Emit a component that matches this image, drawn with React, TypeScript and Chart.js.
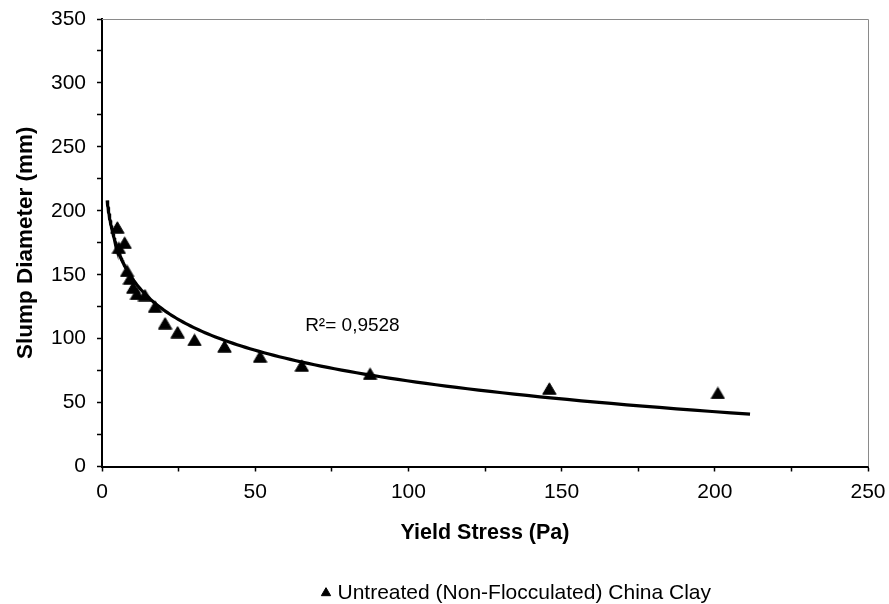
import React, { useEffect, useRef } from 'react';
import { Chart, registerables } from 'chart.js';

Chart.register(...registerables);

// Measured yield stress (Pa) against slump diameter (mm), untreated china clay
const YIELD_STRESS = [5.0, 5.5, 7.4, 8.2, 9.1, 10.2, 11.4, 14.0, 17.3, 20.6, 24.7, 30.2, 40.0, 51.6, 65.2, 87.5, 146.0, 201.0];
const SLUMP_DIAMETER = [187, 171, 175, 153, 147, 140, 135, 134, 125, 112, 105, 99, 94, 86, 79, 72.5, 61, 57.5];

const SERIES_LABEL = 'Untreated (Non-Flocculated) China Clay';
const X_TITLE = 'Yield Stress (Pa)';
const Y_TITLE = 'Slump Diameter (mm)';
const R_SQUARED_TEXT = 'R²= 0,9528';

// Axis ranges and tick spacing
const X_MIN = 0;
const X_MAX = 250;
const Y_MIN = 0;
const Y_MAX = 350;
const LABEL_STEP = 50;
const TICK_STEP = 25;

// Extent of the logarithmic trendline (Pa), forecast included
const TREND_START = 1.7;
const TREND_END = 211.5;
const TREND_SAMPLES = 160;

// Anchor of the R² text, in data units
const R_SQUARED_AT = { x: 66.3, y: 110.3 };

const WIDTH = 889;
const HEIGHT = 604;
const PLOT = { left: 102, top: 19, right: 868, bottom: 466.5 };
// Legend item start (marker box) and top edge
const LEGEND_AT = { left: 325, top: 582.5 };
const FONT = "'Liberation Sans', Arial, Helvetica, sans-serif";

// Least-squares fit of y = intercept + slope * ln(x)
function fitLog(xs: number[], ys: number[]) {
  const ls = xs.map((v) => Math.log(v));
  const n = ls.length;
  const ml = ls.reduce((s, v) => s + v, 0) / n;
  const my = ys.reduce((s, v) => s + v, 0) / n;
  let sxy = 0;
  let sxx = 0;
  for (let i = 0; i < n; i++) {
    sxy += (ls[i] - ml) * (ys[i] - my);
    sxx += (ls[i] - ml) * (ls[i] - ml);
  }
  const slope = sxy / sxx;
  return { slope, intercept: my - slope * ml };
}

// Filled triangle marker, centred on its bounding box
function triangleImage(w: number, h: number) {
  const c = document.createElement('canvas');
  c.width = w;
  c.height = h;
  const g = c.getContext('2d')!;
  g.fillStyle = '#000';
  g.strokeStyle = '#000';
  g.lineJoin = 'round';
  g.lineWidth = 1;
  g.beginPath();
  g.moveTo(w / 2, 0.8);
  g.lineTo(w - 0.8, h - 0.8);
  g.lineTo(0.8, h - 0.8);
  g.closePath();
  g.fill();
  g.stroke();
  return c;
}

const plotFrame = {
  id: 'plotFrame',
  beforeDatasetsDraw(chart: any) {
    const { ctx, chartArea: a } = chart;
    ctx.save();
    ctx.strokeStyle = '#8a8a8a';
    ctx.lineWidth = 1;
    ctx.beginPath();
    ctx.moveTo(a.left, Math.round(a.top) + 0.5);
    ctx.lineTo(Math.round(a.right) + 0.5, Math.round(a.top) + 0.5);
    ctx.lineTo(Math.round(a.right) + 0.5, a.bottom);
    ctx.stroke();
    ctx.restore();
  },
};

const rSquaredLabel = {
  id: 'rSquaredLabel',
  afterDatasetsDraw(chart: any) {
    const { ctx, scales } = chart;
    ctx.save();
    ctx.font = `19px ${FONT}`;
    ctx.fillStyle = '#000';
    ctx.textAlign = 'left';
    ctx.textBaseline = 'middle';
    ctx.fillText(R_SQUARED_TEXT, scales.x.getPixelForValue(R_SQUARED_AT.x), scales.y.getPixelForValue(R_SQUARED_AT.y));
    ctx.restore();
  },
};

// Moves the legend box so its end-aligned item starts at LEGEND_AT.left,
// leaving room on the left so the marker is not clipped.
const legendPlacement = {
  id: 'legendPlacement',
  afterLayout(chart: any) {
    const lg = chart.legend;
    if (!lg) return;
    const h = lg.bottom - lg.top;
    const itemWidth = lg.lineWidths && lg.lineWidths.length ? lg.lineWidths[0] : 0;
    lg.left = LEGEND_AT.left - 30;
    lg.right = LEGEND_AT.left + itemWidth;
    lg.width = lg.right - lg.left;
    lg.top = LEGEND_AT.top;
    lg.bottom = LEGEND_AT.top + h;
  },
};

export default function App() {
  const canvasRef = useRef<HTMLCanvasElement | null>(null);

  useEffect(() => {
    const canvas = canvasRef.current;
    if (!canvas) return;

    const fit = fitLog(YIELD_STRESS, SLUMP_DIAMETER);
    const trend: { x: number; y: number }[] = [];
    const l0 = Math.log(TREND_START);
    const l1 = Math.log(TREND_END);
    for (let i = 0; i <= TREND_SAMPLES; i++) {
      const x = Math.exp(l0 + ((l1 - l0) * i) / TREND_SAMPLES);
      trend.push({ x, y: fit.intercept + fit.slope * Math.log(x) });
    }
    const points = YIELD_STRESS.map((x, i) => ({ x, y: SLUMP_DIAMETER[i] }));

    const marker = triangleImage(15, 13);

    const tickFont = { family: FONT, size: 21 };

    const chart = new Chart(canvas, {
      type: 'scatter',
      data: {
        datasets: [
          {
            label: 'Log. trend',
            data: trend,
            showLine: true,
            borderColor: '#000',
            borderWidth: 3.2,
            pointRadius: 0,
            fill: false,
            tension: 0,
          },
          {
            label: SERIES_LABEL,
            data: points,
            pointStyle: marker as any,
            pointRadius: 6,
            pointBorderWidth: 1,
            backgroundColor: '#000',
            borderColor: '#000',
          },
        ],
      },
      options: {
        responsive: false,
        animation: false,
        events: [],
        layout: { padding: { left: 0, top: PLOT.top, right: WIDTH - PLOT.right, bottom: 0 } },
        plugins: {
          tooltip: { enabled: false },
          legend: {
            display: true,
            position: 'bottom',
            align: 'end',
            labels: {
              usePointStyle: true,
              pointStyle: 'triangle',
              boxWidth: 2,
              boxHeight: 7.6,
              padding: 0,
              color: '#000',
              font: { family: FONT, size: 21 },
              filter: (item: any) => item.datasetIndex === 1,
            },
          },
        },
        scales: {
          x: {
            type: 'linear',
            min: X_MIN,
            max: X_MAX,
            afterFit: (s: any) => {
              const lg = s.chart.legend;
              s.height = HEIGHT - PLOT.bottom - (lg ? lg.height : 0);
              s.paddingLeft = 0;
              s.paddingRight = 0;
            },
            ticks: {
              stepSize: TICK_STEP,
              autoSkip: false,
              maxRotation: 0,
              padding: 8,
              color: '#000',
              font: tickFont,
              callback: (v: any) => (Number(v) % LABEL_STEP === 0 ? String(v) : ''),
            },
            grid: { drawOnChartArea: false, drawTicks: true, tickLength: 5, tickColor: '#000', tickWidth: 1.5 },
            border: { display: true, color: '#000', width: 2 },
            title: {
              display: true,
              text: X_TITLE,
              color: '#000',
              font: { family: FONT, size: 21.5, weight: 'bold' },
              padding: { top: 0, bottom: 27 },
            },
          },
          y: {
            type: 'linear',
            min: Y_MIN,
            max: Y_MAX,
            afterFit: (s: any) => {
              s.width = PLOT.left;
              s.paddingTop = 0;
              s.paddingBottom = 0;
            },
            ticks: {
              stepSize: TICK_STEP,
              autoSkip: false,
              padding: 11,
              color: '#000',
              font: tickFont,
              callback: (v: any) => (Number(v) % LABEL_STEP === 0 ? String(v) : ''),
            },
            grid: { drawOnChartArea: false, drawTicks: true, tickLength: 5, tickColor: '#000', tickWidth: 1.5 },
            border: { display: true, color: '#000', width: 2 },
            title: {
              display: true,
              text: Y_TITLE,
              color: '#000',
              font: { family: FONT, size: 22.5, weight: 'bold' },
              padding: { top: 12, bottom: 0 },
            },
          },
        },
      },
      plugins: [plotFrame, rSquaredLabel, legendPlacement],
    });

    return () => chart.destroy();
  }, []);

  return (
    <div style={{ position: 'absolute', left: 0, top: 0, width: WIDTH, height: HEIGHT, background: '#fff' }}>
      <canvas ref={canvasRef} width={WIDTH} height={HEIGHT} style={{ display: 'block' }} />
    </div>
  );
}
